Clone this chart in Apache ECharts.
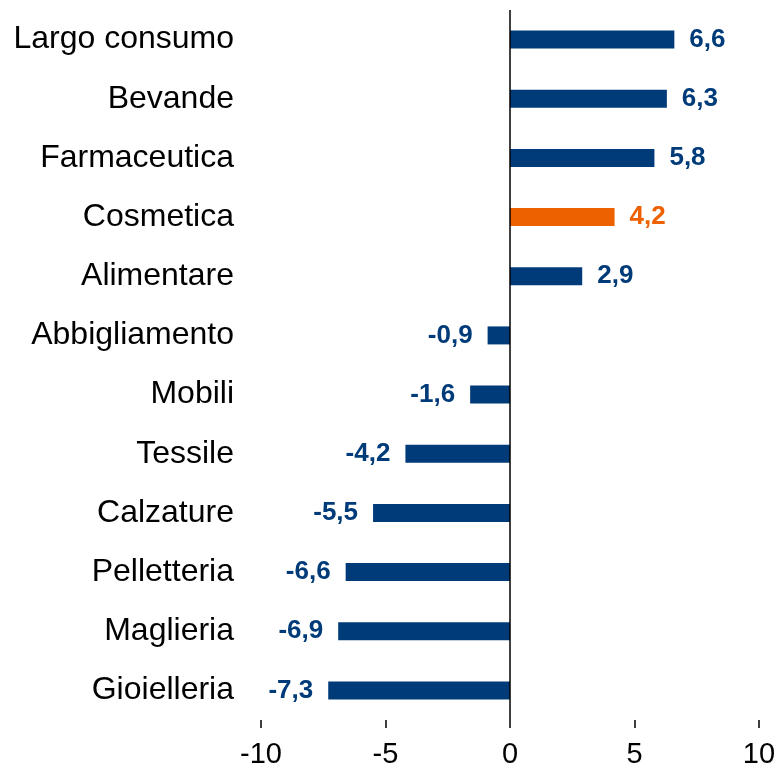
<html>

<head>
    <meta charset="utf-8" />
    <script src="https://cdn.jsdelivr.net/npm/echarts@6/dist/echarts.min.js"></script>
    <style>
        html, body { margin: 0; padding: 0; background: #fff; }
        #chart { width: 779px; height: 769px; }
    </style>
</head>

<body>
    <div id="chart"></div>

    <script>
        // categories from top to bottom
        var categories = ['Largo consumo', 'Bevande', 'Farmaceutica', 'Cosmetica', 'Alimentare',
            'Abbigliamento', 'Mobili', 'Tessile', 'Calzature', 'Pelletteria', 'Maglieria', 'Gioielleria'];
        var values = [6.6, 6.3, 5.8, 4.2, 2.9, -0.9, -1.6, -4.2, -5.5, -6.6, -6.9, -7.3];
        var highlight = 'Cosmetica';
        var xTicks = [-10, -5, 0, 5, 10];

        var navy = '#003b79', orange = '#ee6100';

        var seriesData = values.map(function (v, i) {
            var c = categories[i] === highlight ? orange : navy;
            return {
                value: v,
                itemStyle: { color: c },
                label: { color: c, position: v < 0 ? 'left' : 'right' }
            };
        });

        var myChart = echarts.init(document.getElementById('chart'));
        myChart.setOption({
            animation: false,
            grid: { left: 261, right: 20, top: 10, bottom: 49, containLabel: false },
            xAxis: {
                type: 'value',
                min: xTicks[0],
                max: xTicks[xTicks.length - 1],
                interval: 5,
                axisLine: { onZero: false, lineStyle: { color: '#000', width: 1.5 } },
                axisTick: { show: true, length: 8, lineStyle: { color: '#000', width: 1.5 } },
                splitLine: { show: false },
                axisLabel: { color: '#000', fontSize: 29, fontFamily: 'Liberation Sans, Arial', margin: 20 }
            },
            yAxis: {
                type: 'category',
                inverse: true,
                data: categories,
                axisLine: { show: false },
                axisTick: { show: false },
                axisLabel: { color: '#000', fontSize: 32, fontFamily: 'Liberation Sans, Arial', margin: 27 }
            },
            series: [{
                type: 'bar',
                data: seriesData,
                barWidth: 18,
                label: {
                    show: true,
                    distance: 15,
                    fontSize: 26,
                    fontWeight: 'bold',
                    fontFamily: 'Liberation Sans, Arial',
                    formatter: function (p) { return String(p.value).replace('.', ','); }
                },
                markLine: {
                    silent: true,
                    symbol: 'none',
                    label: { show: false },
                    lineStyle: { color: '#000', width: 1.5, type: 'solid' },
                    data: [{ xAxis: 0 }]
                }
            }]
        });
    </script>
</body>

</html>
